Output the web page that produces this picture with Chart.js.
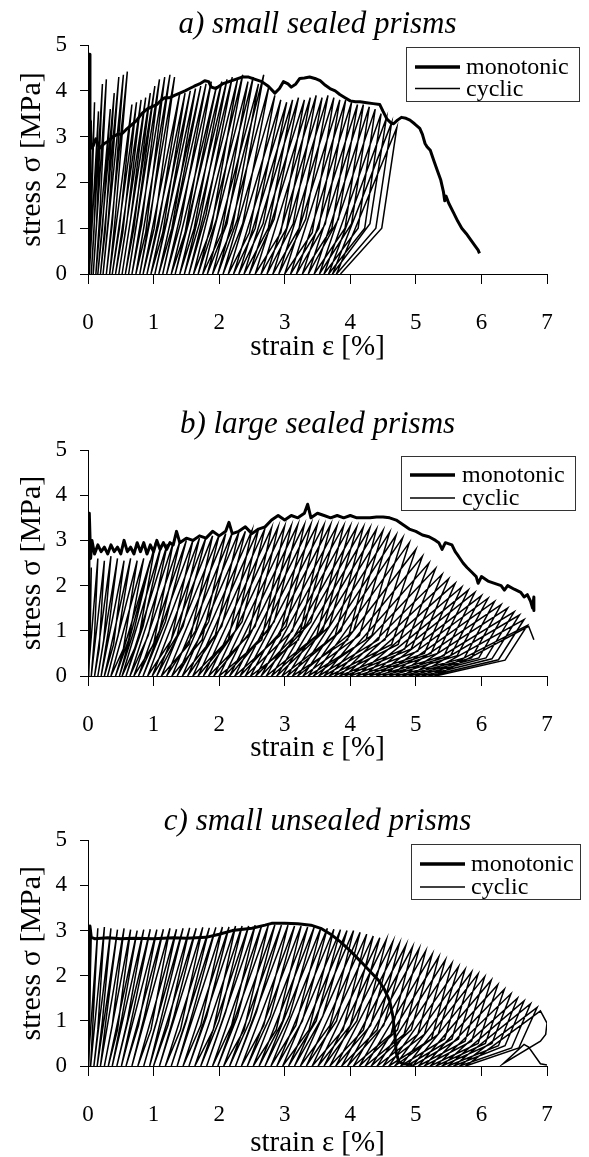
<!DOCTYPE html>
<html>
<head>
<meta charset="utf-8">
<script src="https://cdn.jsdelivr.net/npm/chart.js@4.4.0/dist/chart.umd.min.js"></script>
<style>
  html, body { margin: 0; padding: 0; background: #fff; overflow: hidden; }
  #wrap { position: relative; width: 589px; height: 1157px; overflow: hidden; }
  canvas { position: absolute; left: 0; }
</style>
</head>
<body>
<div id="wrap">
  <canvas id="chartA" width="589" height="380" style="top:0px"></canvas>
  <canvas id="chartB" width="589" height="390" style="top:380px"></canvas>
  <canvas id="chartC" width="589" height="391" style="top:770px"></canvas>
</div>
<script>
// axis ticks
const strainTicks = [0, 1, 2, 3, 4, 5, 6, 7];
const stressTicks = [0, 1, 2, 3, 4, 5];

// a) small sealed prisms - monotonic
const monoA_strain = [0,0.02,0.03,0.05,0.08,0.12,0.18,0.25,0.31,0.38, 0.45,0.51,0.58,0.66,0.74,0.82,0.90,0.97,1.05,1.12,
  1.17,1.25,1.32,1.40,1.48,1.55,1.62,1.70,1.78,1.84, 1.88,1.95,2.05,2.15,2.25,2.35,2.45,2.55,2.65,2.75,
  2.85,2.92,2.98,3.05,3.10,3.17,3.23,3.30,3.38,3.46, 3.54,3.62,3.69,3.77,3.84,3.92,4.00,4.08,4.15,4.25,
  4.35,4.45,4.50,4.56,4.62,4.66,4.72,4.78,4.85,4.91, 4.98,5.06,5.10,5.14,5.17,5.22,5.28,5.33,5.38,5.42,
  5.44,5.46,5.50,5.57,5.64,5.70,5.77,5.84,5.90,5.95, 5.97];
const monoA_stress = [0,4.80,3.40,2.75,2.80,2.95,2.75,2.85,2.90,3.00, 3.05,3.05,3.15,3.25,3.35,3.50,3.60,3.65,3.70,3.80,
  3.85,3.85,3.90,3.95,4.00,4.05,4.10,4.15,4.22,4.20, 4.08,4.05,4.15,4.20,4.25,4.30,4.30,4.25,4.20,4.10,
  3.95,4.05,4.20,4.15,4.08,4.15,4.27,4.28,4.30,4.27, 4.22,4.12,4.05,4.00,3.92,3.85,3.78,3.76,3.76,3.74,
  3.72,3.70,3.55,3.38,3.30,3.28,3.36,3.42,3.40,3.36, 3.28,3.18,3.05,2.85,2.78,2.70,2.45,2.25,2.05,1.80,
  1.60,1.70,1.55,1.35,1.15,1.00,0.88,0.74,0.62,0.52, 0.45];

// a) cyclic: peak of each cycle, a point low on the unloading branch, residual strain at zero stress
const cycA_peakStrain = [0.05,0.10,0.16,0.22,0.28,0.34,0.40,0.47,0.54,0.60, 0.67,0.74,0.81,0.88,0.95,1.02,1.09,1.17,1.25,1.32,
  1.40,1.48,1.56,1.64,1.72,1.80,1.88,1.96,2.04,2.12, 2.20,2.28,2.36,2.44,2.52,2.60,2.68,2.76,2.85,2.94,
  3.03,3.12,3.21,3.30,3.39,3.48,3.57,3.66,3.75,3.84, 3.93,4.02,4.11,4.20,4.29,4.38,4.47,4.55,4.63,4.71];
const cycA_peakStress = [3.35,3.75,3.55,4.15,4.25,3.60,3.95,4.30,4.35,4.42, 3.70,3.75,3.80,3.85,3.95,4.10,4.25,4.30,4.35,4.30,
  3.95,3.95,4.00,4.05,4.10,4.15,4.20,4.10,4.20,4.25, 4.30,4.25,4.35,4.20,4.30,4.15,4.35,4.10,3.90,3.80,
  3.75,3.80,3.85,3.80,3.85,3.90,3.85,3.90,3.85,3.80, 3.80,3.75,3.70,3.70,3.65,3.60,3.50,3.40,3.30,3.20];
const cycA_kneeStrain = [0.02,0.05,0.09,0.13,0.18,0.22,0.26,0.31,0.37,0.42, 0.48,0.53,0.59,0.65,0.70,0.76,0.82,0.88,0.95,1.01,
  1.08,1.14,1.21,1.28,1.34,1.41,1.48,1.55,1.62,1.70, 1.80,1.88,1.96,2.04,2.12,2.20,2.28,2.36,2.46,2.55,
  2.67,2.75,2.84,2.94,3.03,3.13,3.22,3.32,3.42,3.52, 3.62,3.72,3.82,3.92,4.02,4.12,4.22,4.30,4.39,4.48];
const cycA_kneeStress = [1.0,1.2,0.9,1.1,1.3,1.0,0.9,1.2,1.1,1.3, 1.0,0.9,1.1,1.2,1.0,1.3,1.1,0.9,1.2,1.0,
  1.1,0.9,1.2,1.0,1.3,1.1,0.9,1.2,1.0,1.1, 1.3,1.0,1.2,0.9,1.1,1.0,1.2,1.1,0.9,1.0,
  1.1,1.0,1.2,0.9,1.0,1.1,1.0,1.2,0.9,1.0, 1.1,1.0,1.2,1.0,1.1,1.0,1.0,1.1,1.0,1.0];
const cycA_zeroStrain = [0.00,0.02,0.05,0.08,0.12,0.15,0.19,0.23,0.28,0.33, 0.37,0.42,0.47,0.52,0.57,0.62,0.67,0.73,0.79,0.84,
  0.90,0.96,1.02,1.08,1.14,1.20,1.27,1.33,1.40,1.47, 1.54,1.61,1.68,1.75,1.82,1.90,1.98,2.06,2.14,2.22,
  2.30,2.38,2.46,2.55,2.64,2.73,2.82,2.91,3.00,3.09, 3.18,3.27,3.36,3.45,3.53,3.60,3.67,3.73,3.79,3.85];

// b) large sealed prisms - monotonic
const monoB_strain = [0,0.02,0.04,0.06,0.10,0.15,0.20,0.25,0.30,0.35, 0.40,0.45,0.50,0.55,0.60,0.65,0.70,0.75,0.80,0.85,
  0.90,0.95,1.00,1.05,1.10,1.15,1.20,1.25,1.30,1.35, 1.40,1.50,1.60,1.70,1.80,1.90,2.00,2.10,2.15,2.20,
  2.30,2.40,2.50,2.60,2.70,2.80,2.90,3.00,3.10,3.20, 3.30,3.35,3.40,3.50,3.60,3.70,3.80,3.90,4.00,4.10,
  4.20,4.30,4.40,4.50,4.60,4.70,4.80,4.90,5.00,5.10, 5.20,5.30,5.35,5.40,5.45,5.55,5.60,5.65,5.72,5.78,
  5.85,5.92,5.95,6.00,6.10,6.20,6.30,6.35,6.40,6.50, 6.60,6.65,6.70,6.75,6.78,6.80,6.80];
const monoB_stress = [0,3.60,2.60,3.00,2.70,2.90,2.75,2.85,2.70,2.90, 2.75,2.85,2.70,3.00,2.75,2.85,2.70,2.95,2.75,2.95,
  2.70,2.90,2.75,3.00,2.80,2.95,2.80,2.95,2.90,3.20, 2.95,3.05,3.00,3.10,3.05,3.20,3.10,3.20,3.40,3.15,
  3.20,3.30,3.15,3.25,3.30,3.45,3.55,3.45,3.55,3.50, 3.60,3.80,3.50,3.60,3.55,3.50,3.55,3.50,3.55,3.50,
  3.50,3.50,3.52,3.52,3.50,3.45,3.35,3.25,3.20,3.12, 3.08,3.00,2.95,2.80,2.95,2.90,2.75,2.65,2.50,2.40,
  2.30,2.20,2.05,2.20,2.10,2.05,2.00,1.90,2.00,1.92, 1.85,1.75,1.80,1.65,1.50,1.75,1.45];

// b) cyclic
const cycB_peakStrain = [0.05,0.15,0.25,0.35,0.45,0.55,0.65,0.75,0.85,0.95, 1.03,1.12,1.21,1.30,1.40,1.50,1.60,1.70,1.80,1.90,
  2.00,2.10,2.20,2.30,2.40,2.50,2.60,2.70,2.80,2.90, 3.00,3.10,3.20,3.30,3.40,3.50,3.60,3.70,3.80,3.90,
  4.00,4.10,4.20,4.30,4.40,4.50,4.60,4.70,4.80,4.90, 5.00,5.10,5.20,5.30,5.40,5.50,5.60,5.70,5.80,5.90,
  6.00,6.10,6.20,6.30,6.40,6.50,6.58,6.65,6.70];
const cycB_peakStress = [2.40,2.60,2.55,2.65,2.60,2.55,2.60,2.55,2.60,2.55, 2.95,2.90,2.92,2.95,2.97,3.00,3.00,3.05,3.07,3.10,
  3.12,3.15,3.17,3.18,3.20,3.22,3.25,3.27,3.28,3.30, 3.32,3.33,3.35,3.35,3.36,3.36,3.35,3.35,3.33,3.33,
  3.32,3.30,3.30,3.28,3.25,3.22,3.18,3.12,3.06,2.95, 2.80,2.65,2.50,2.38,2.25,2.15,2.05,1.97,1.90,1.85,
  1.78,1.72,1.65,1.58,1.50,1.42,1.35,1.25,1.12];
const cycB_kneeStrain = [0.03,0.10,0.17,0.24,0.31,0.39,0.46,0.54,0.62,0.70, 0.77,0.84,0.92,1.00,1.09,1.18,1.27,1.36,1.45,1.54,
  1.64,1.74,1.84,1.94,2.04,2.14,2.25,2.35,2.45,2.55, 2.65,2.74,2.84,2.93,3.02,3.12,3.21,3.30,3.40,3.49,
  3.58,3.68,3.77,3.86,3.96,4.05,4.14,4.24,4.33,4.43, 4.53,4.63,4.73,4.83,4.93,5.03,5.13,5.23,5.33,5.43,
  5.53,5.63,5.74,5.85,5.96,6.07,6.16,6.26,6.36];
const cycB_kneeStress = [0.7,0.9,0.6,0.8,1.0,0.7,0.9,0.6,0.8,1.0, 0.8,1.1,0.9,0.7,1.0,1.2,0.8,0.9,1.1,0.7,
  1.0,0.8,1.2,0.9,1.1,0.8,1.0,1.2,0.9,1.1, 0.8,1.0,1.2,0.9,1.1,1.0,0.8,1.1,1.2,0.9, 1.0,1.1,0.9,1.0,0.8,1.0,0.9,0.8,0.9,0.8,
  0.8,0.7,0.7,0.6,0.6,0.55,0.5,0.5,0.5,0.45, 0.45,0.45,0.4,0.4,0.4,0.4,0.38,0.36,0.35];
const cycB_zeroStrain = [0.00,0.05,0.10,0.15,0.20,0.25,0.30,0.35,0.42,0.48, 0.52,0.58,0.64,0.70,0.77,0.84,0.91,0.98,1.05,1.12,
  1.20,1.28,1.36,1.44,1.52,1.60,1.68,1.76,1.84,1.92, 2.00,2.08,2.16,2.24,2.32,2.40,2.48,2.56,2.64,2.72,
  2.80,2.88,2.96,3.04,3.12,3.20,3.28,3.36,3.44,3.52, 3.60,3.68,3.76,3.84,3.92,4.00,4.10,4.20,4.30,4.40,
  4.50,4.60,4.70,4.80,4.90,5.00,5.10,5.20,5.30];
const cycB_tailStrain = [6.72, 6.80];
const cycB_tailStress = [1.10, 0.80];

// c) small unsealed prisms - monotonic
const monoC_strain = [0,0.03,0.05,0.10,0.30,0.50,0.70,1.00,1.30,1.50, 1.80,2.00,2.20,2.50,2.70,2.80,3.00,3.20,3.40,3.55,
  3.70,3.85,4.00,4.15,4.30,4.43,4.52,4.60,4.65,4.68, 4.70,4.74,4.80,4.95];
const monoC_stress = [0,3.10,2.85,2.82,2.84,2.82,2.83,2.82,2.84,2.83, 2.85,2.92,3.00,3.05,3.12,3.16,3.16,3.15,3.12,3.05,
  2.92,2.75,2.55,2.33,2.10,1.90,1.70,1.45,1.10,0.70, 0.30,0.10,0.05,0.03];

// c) cyclic
const cycC_peakStrain = [0.05,0.15,0.25,0.35,0.45,0.55,0.65,0.75,0.85,0.95, 1.05,1.15,1.25,1.35,1.45,1.55,1.65,1.75,1.85,1.95,
  2.05,2.15,2.25,2.35,2.45,2.55,2.65,2.75,2.85,2.95, 3.05,3.15,3.25,3.35,3.45,3.55,3.65,3.75,3.85,3.95,
  4.05,4.15,4.25,4.35,4.45,4.55,4.65,4.75,4.85,4.95, 5.05,5.15,5.25,5.35,5.45,5.55,5.65,5.75,5.85,5.95,
  6.05,6.15,6.25,6.35,6.45,6.55,6.65,6.75,6.85];
const cycC_peakStress = [3.00,3.05,3.08,3.05,3.02,3.05,3.02,3.00,3.02,3.03, 3.02,3.03,3.05,3.03,3.05,3.06,3.05,3.07,3.06,3.07,
  3.08,3.08,3.10,3.10,3.10,3.12,3.12,3.12,3.13,3.12, 3.12,3.10,3.10,3.08,3.08,3.05,3.05,3.03,3.02,3.00,
  3.00,2.96,2.92,2.88,2.84,2.80,2.76,2.72,2.68,2.64, 2.60,2.55,2.48,2.42,2.35,2.28,2.20,2.14,2.08,2.04,
  1.98,1.90,1.80,1.70,1.60,1.50,1.44,1.38,1.30];
const cycC_kneeStrain = [0.02,0.08,0.15,0.22,0.29,0.37,0.45,0.52,0.60,0.69, 0.77,0.86,0.96,1.05,1.14,1.22,1.31,1.41,1.50,1.60,
  1.72,1.81,1.91,2.00,2.10,2.19,2.28,2.38,2.47,2.57, 2.68,2.78,2.87,2.97,3.07,3.17,3.27,3.37,3.48,3.58,
  3.69,3.79,3.89,4.00,4.10,4.20,4.31,4.41,4.51,4.62, 4.72,4.82,4.93,5.03,5.13,5.24,5.34,5.44,5.55,5.65,
  5.75,5.85,5.95,6.06,6.16,6.26,6.36,6.46,6.57];
const cycC_kneeStress = [0.9,1.1,0.8,1.0,1.2,0.9,0.8,1.1,1.0,1.2, 0.9,1.1,0.8,1.0,1.2,0.9,1.1,0.8,1.0,1.2,
  0.9,1.1,0.8,1.0,1.2,0.9,1.1,0.8,1.0,1.2, 0.9,1.1,0.8,1.0,1.1,0.9,1.0,0.8,1.0,1.1,
  0.9,1.0,0.8,0.9,1.0,0.8,0.9,0.8,0.9,0.7, 0.8,0.7,0.8,0.7,0.7,0.6,0.7,0.6,0.6,0.6,
  0.55,0.55,0.5,0.5,0.5,0.45,0.45,0.4,0.4];
const cycC_zeroStrain = [0.00,0.04,0.09,0.14,0.19,0.25,0.31,0.37,0.44,0.51, 0.58,0.67,0.76,0.85,0.94,1.00,1.09,1.18,1.27,1.36,
  1.45,1.54,1.63,1.72,1.81,1.90,1.98,2.07,2.16,2.25, 2.34,2.43,2.52,2.61,2.70,2.79,2.88,2.97,3.06,3.15,
  3.24,3.33,3.42,3.51,3.60,3.69,3.78,3.87,3.96,4.05, 4.14,4.23,4.32,4.41,4.50,4.59,4.68,4.77,4.86,4.95,
  5.04,5.13,5.22,5.31,5.40,5.49,5.58,5.67,5.76];
const cycC_tailStrain = [6.90,7.00,6.98,6.90,6.33,6.65,6.72,6.90,7.00];
const cycC_tailStress = [1.22,0.95,0.70,0.55,0.05,0.48,0.42,0.05,0.02];

const SERIF = "'Liberation Serif', serif";

function toPoints(xs, ys) {
  return xs.map((x, i) => ({ x: x, y: ys[i] }));
}

// peak -> knee on the unloading branch -> residual strain -> next peak ...
function cyclicPath(peakX, peakY, kneeX, kneeY, zeroX, tailX, tailY) {
  const pts = [{ x: 0, y: 0 }];
  peakX.forEach((px, i) => {
    pts.push({ x: px, y: peakY[i] });
    pts.push({ x: kneeX[i], y: kneeY[i] });
    pts.push({ x: zeroX[i], y: 0 });
  });
  if (tailX) tailX.forEach((x, i) => pts.push({ x: x, y: tailY[i] }));
  return pts;
}

// boxed legend in the upper right, like the original figure
const boxLegend = {
  id: 'boxLegend',
  afterDraw(chart, args, opts) {
    const ctx = chart.ctx;
    const b = opts.box;
    ctx.save();
    ctx.strokeStyle = '#333';
    ctx.lineWidth = 1;
    ctx.strokeRect(b[0] + 0.5, b[1] + 0.5, b[2] - b[0], b[3] - b[1]);
    ctx.font = '24px ' + SERIF;
    ctx.fillStyle = '#000';
    ctx.textBaseline = 'middle';
    chart.data.datasets.forEach((ds, i) => {
      const y = opts.rows[i];
      ctx.beginPath();
      ctx.lineWidth = i === 0 ? 3.6 : 1.3;
      ctx.strokeStyle = '#000';
      ctx.moveTo(opts.lineX[0], y);
      ctx.lineTo(opts.lineX[1], y);
      ctx.stroke();
      ctx.fillText(ds.label, opts.textX, y + 1);
    });
    ctx.restore();
  }
};

function makeChart(id, title, mono, cyc, L) {
  return new Chart(document.getElementById(id), {
    type: 'scatter',
    data: {
      datasets: [
        { label: 'monotonic', data: mono, showLine: true, borderColor: '#000', borderWidth: 3,
          pointRadius: 0, tension: 0, borderJoinStyle: 'round' },
        { label: 'cyclic', data: cyc, showLine: true, borderColor: '#000', borderWidth: 1.5,
          pointRadius: 0, tension: 0 }
      ]
    },
    options: {
      responsive: false,
      animation: false,
      devicePixelRatio: 1,
      events: [],
      layout: { padding: { left: 0, right: 42, top: 0, bottom: 0 } },
      plugins: {
        legend: { display: false },
        tooltip: { enabled: false },
        title: {
          display: true, text: title, fullSize: false, color: '#000',
          font: { family: SERIF, size: 31, style: 'italic', weight: 'normal', lineHeight: 1.2 },
          padding: { top: L.titleTop, bottom: L.titleBottom }
        },
        boxLegend: L.legend
      },
      scales: {
        x: {
          type: 'linear', min: strainTicks[0], max: strainTicks[strainTicks.length - 1],
          afterFit: (s) => { s.height = L.xHeight; },
          border: { display: true, color: '#000', width: 1 },
          grid: { drawOnChartArea: false, drawTicks: true, tickLength: 10, tickColor: '#000' },
          ticks: { stepSize: 1, color: '#000', padding: 25, font: { family: SERIF, size: 23 } },
          title: { display: true, text: 'strain ε [%]', color: '#000',
            font: { family: SERIF, size: 29, lineHeight: 1.2 }, padding: { top: 0, bottom: L.xTitleBottom } }
        },
        y: {
          type: 'linear', min: stressTicks[0], max: stressTicks[stressTicks.length - 1],
          afterFit: (s) => { s.width = 88; },
          border: { display: true, color: '#000', width: 1 },
          grid: { drawOnChartArea: false, drawTicks: true, tickLength: 8, tickColor: '#000' },
          ticks: { stepSize: 1, color: '#000', padding: 13, font: { family: SERIF, size: 23 } },
          title: { display: true, text: 'stress σ [MPa]', color: '#000',
            font: { family: SERIF, size: 30, lineHeight: 1.2 }, padding: { top: 14, bottom: 0 } }
        }
      }
    },
    plugins: [boxLegend]
  });
}

makeChart('chartA', 'a) small sealed prisms',
  toPoints(monoA_strain, monoA_stress),
  cyclicPath(cycA_peakStrain, cycA_peakStress, cycA_kneeStrain, cycA_kneeStress, cycA_zeroStrain),
  { titleTop: 6.4, titleBottom: 1.4, xHeight: 106, xTitleBottom: 15.6,
    legend: { box: [406, 47, 579, 101], rows: [67, 88.5], lineX: [415, 460], textX: 466 } });

makeChart('chartB', 'b) large sealed prisms',
  toPoints(monoB_strain, monoB_stress),
  cyclicPath(cycB_peakStrain, cycB_peakStress, cycB_kneeStrain, cycB_kneeStress, cycB_zeroStrain,
    cycB_tailStrain, cycB_tailStress),
  { titleTop: 26.4, titleBottom: 6.4, xHeight: 94, xTitleBottom: 4.6,
    legend: { box: [401, 76, 575, 130], rows: [95, 118], lineX: [410, 455], textX: 462 } });

makeChart('chartC', 'c) small unsealed prisms',
  toPoints(monoC_strain, monoC_stress),
  cyclicPath(cycC_peakStrain, cycC_peakStress, cycC_kneeStrain, cycC_kneeStress, cycC_zeroStrain,
    cycC_tailStrain, cycC_tailStress),
  { titleTop: 33.1, titleBottom: 0, xHeight: 95, xTitleBottom: 0.6,
    legend: { box: [411, 74, 580, 129], rows: [94, 117], lineX: [420, 465], textX: 471 } });
</script>
</body>
</html>
